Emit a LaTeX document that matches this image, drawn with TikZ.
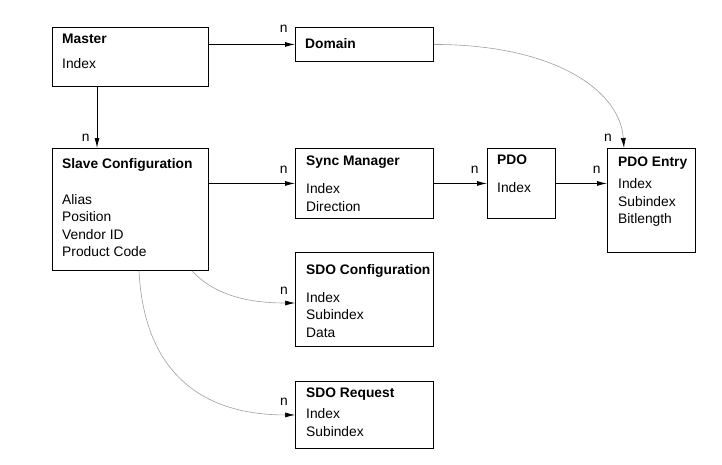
\documentclass[tikz,border=0pt]{standalone}
\usepackage{fontspec}
\setmainfont{Liberation Sans}
\usetikzlibrary{arrows.meta}

\tikzset{
  entity/.style={draw, line width=0.9pt, anchor=north west, inner sep=0pt},
  attrs/.style={anchor=north west, inner sep=0pt, align=left,
    font=\fontsize{13.8}{17.5}\selectfont},
  rel/.style={line width=0.9pt, -{Latex[length=10pt,width=5pt]}},
  softrel/.style={draw=gray!75, line width=0.6pt,
    -{Latex[length=10pt,width=5pt,color=black]}},
  nmark/.style={anchor=south east, inner sep=0pt,
    font=\fontsize{13.8}{17.5}\selectfont},
}

\begin{document}
\begin{tikzpicture}[x=1pt,y=-1pt]
      \useasboundingbox (0,0) rectangle (722,464);

      % entities
      \begin{scope}[every node/.style={entity}]
        \node[minimum width=156, minimum height=59]  (master) at (52,27)  {};
        \node[minimum width=138, minimum height=34]  (domain) at (295,27) {};
        \node[minimum width=156, minimum height=122] (slave)  at (52,148) {};
        \node[minimum width=138, minimum height=70]  (sync)   at (295,148) {};
        \node[minimum width=138, minimum height=94]  (sdocfg) at (295,252) {};
        \node[minimum width=138, minimum height=67]  (sdoreq) at (295,381) {};
        \node[minimum width=68,  minimum height=70]  (pdo)    at (487,148) {};
        \node[minimum width=88,  minimum height=104] (entry)  at (607,148) {};
      \end{scope}

      % attributes
      \begin{scope}[every node/.style={attrs}]
        \node (master-t) at ([shift={(10,7)}]master.north west)
          {\textbf{Master}\\[7.5pt]Index};
        \node (domain-t) at ([shift={(10,11)}]domain.north west)
          {\textbf{Domain}};
        \node (slave-t)  at ([shift={(10,10)}]slave.north west)
          {\textbf{Slave Configuration}\\[18.5pt]Alias\\Position\\Vendor ID\\Product Code};
        \node (sync-t)   at ([shift={(11,8)}]sync.north west)
          {\textbf{Sync Manager}\\[10.5pt]Index\\Direction};
        \node (sdocfg-t) at ([shift={(11,12)}]sdocfg.north west)
          {\textbf{SDO Configuration}\\[10.5pt]Index\\Subindex\\Data};
        \node (sdoreq-t) at ([shift={(11,7)}]sdoreq.north west)
          {\textbf{SDO Request}\\[3.5pt]Index\\Subindex};
        \node (pdo-t)    at ([shift={(10,7)}]pdo.north west)
          {\textbf{PDO}\\[10.5pt]Index};
        \node (entry-t)  at ([shift={(11,9)}]entry.north west)
          {\textbf{PDO Entry}\\[4.5pt]Index\\Subindex\\Bitlength};
      \end{scope}

      % relations
      \draw[rel] (master.east |- domain.west) -- (domain.west)
        node[nmark, xshift=-7, yshift=11.5] (n-domain) {n};
      \draw[rel] ([xshift=45]master.south west) -- ([xshift=45]slave.north west)
        node[nmark, xshift=-7, yshift=6] (n-slave) {n};
      \draw[rel] (slave.east |- sync.west) -- (sync.west)
        node[nmark, xshift=-7, yshift=10] (n-sync) {n};
      \draw[rel] (sync.east) -- (pdo.west)
        node[nmark, xshift=-8, yshift=10] (n-pdo) {n};
      \draw[rel] (pdo.east) -- (entry.west |- pdo.east)
        node[nmark, xshift=-6, yshift=10] (n-entry) {n};

      \draw[softrel] (domain.east) .. controls +(120,0) and +(-4,-58)
        .. ([xshift=17]entry.north west)
        node[nmark, xshift=-12, yshift=6] (n-entry2) {n};
      \draw[softrel] ([xshift=140]slave.south west) .. controls +(23,25) and +(-45,0)
        .. ([shift={(0,51)}]sdocfg.north west)
        node[nmark, xshift=-7, yshift=8] (n-sdocfg) {n};
      \draw[softrel] ([xshift=87]slave.south west) .. controls +(5,100) and +(-95,0)
        .. (sdoreq.west)
        node[nmark, xshift=-7, yshift=9] (n-sdoreq) {n};

    \end{tikzpicture}
\end{document}
